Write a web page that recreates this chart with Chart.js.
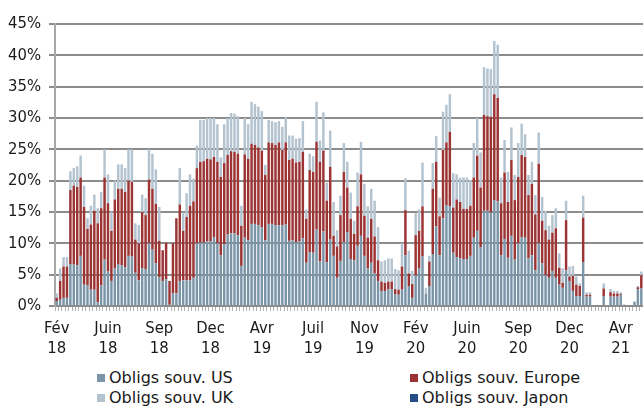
<!DOCTYPE html>
<html>
<head>
<meta charset="utf-8">
<script src="https://cdn.jsdelivr.net/npm/chart.js@4.4.1/dist/chart.umd.min.js"></script>
<style>
  body{margin:0;background:#fff;}
  #wrap{position:relative;width:643px;height:406px;overflow:hidden;}
  #legend{position:absolute;left:0;top:368px;width:643px;font-family:"DejaVu Sans",sans-serif;font-size:16px;color:#1a1a1a;}
  .item{position:absolute;white-space:nowrap;line-height:20px;}
  .item span.box{display:inline-block;width:8px;height:8px;margin-right:4px;vertical-align:1px;}
</style>
</head>
<body>
<div id="wrap">
  <canvas id="chart" width="643" height="360"></canvas>
  <div id="legend"></div>
</div>
<script>
// Etiquettes de l'axe X (une toutes les 15 semaines)
const tickLabels = [
  ["Fév","18"],["Juin","18"],["Sep","18"],["Dec","18"],["Avr","19"],["Juil","19"],
  ["Nov","19"],["Fév","20"],["Juin","20"],["Sep","20"],["Dec","20"],["Avr","21"]
];
const TICK_STEP = 15;

// Séries hebdomadaires (%)
const usData = [
  0.8,1.0,1.3,1.3,6.7,6.6,6.5,8.0,3.4,3.3,2.6,2.6,0.6,3.3,7.4,
  5.5,4.0,6.0,6.6,6.5,6.2,8.0,7.9,5.3,4.1,6.0,5.9,10.0,9.0,6.8,
  4.6,4.0,4.3,0.2,2.0,2.0,4.0,4.1,4.1,4.1,4.5,10.0,10.1,10.1,10.3,
  10.3,11.0,10.0,8.1,9.9,11.4,11.6,11.6,11.3,6.4,10.9,10.5,13.1,13.1,12.9,
  12.6,10.5,13.1,13.1,12.9,12.9,12.9,13.0,10.4,10.5,10.2,10.3,10.8,6.9,8.6,
  8.5,12.2,7.1,11.9,7.0,10.6,8.0,4.5,7.2,10.2,11.8,7.5,7.3,9.6,11.2,
  8.0,6.0,6.9,5.2,4.0,2.4,2.4,2.7,2.7,1.9,1.8,2.6,8.1,3.1,1.3,
  4.9,6.0,7.9,2.0,3.2,8.3,12.7,8.1,14.0,16.1,15.9,8.5,7.8,7.6,7.5,
  7.5,8.0,10.9,12.0,9.4,15.2,15.2,14.9,16.9,16.7,8.1,10.7,7.7,11.2,7.4,
  10.0,11.0,10.9,7.6,8.1,5.7,10.0,6.8,4.9,4.5,5.6,4.5,3.4,2.9,5.7,
  4.0,2.4,1.6,1.6,7.0,1.5,1.5,0,0,0,1.6,0,1.5,1.5,1.5,
  1.7,0,0,0,0.7,2.7,2.8
];
const europeData = [
  0.5,3.0,5.0,5.0,11.8,12.6,12.5,12.5,12.4,9.0,10.4,12.6,12.6,12.3,13.1,
  10.9,8.0,11.0,12.1,12.2,12.0,12.0,11.9,5.3,5.9,9.0,8.6,10.2,9.7,9.5,
  5.8,4.9,5.8,3.8,8.0,12.0,12.2,7.9,10.1,11.9,12.2,12.0,12.9,13.0,13.2,
  13.1,12.8,13.0,12.5,12.9,12.7,13.1,13.0,13.0,6.4,13.3,13.0,12.8,12.6,12.4,
  12.2,10.4,13.0,12.9,12.8,13.2,12.0,13.1,12.9,13.0,12.7,12.7,13.8,7.0,13.1,
  12.9,14.0,15.9,12.9,9.8,11.6,3.2,5.0,7.3,11.2,7.1,6.4,4.2,6.3,9.8,
  6.4,4.9,7.0,5.9,3.3,1.5,1.3,1.2,1.2,0.8,0.8,3.7,7.2,2.1,2.2,
  6.4,6.0,8.0,0,3.9,10.4,10.3,6.2,10.9,10.0,11.9,7.2,9.2,9.0,8.0,
  8.0,8.0,9.6,12.0,9.5,15.3,15.1,15.3,16.9,16.5,8.3,10.6,8.9,12.1,9.5,
  10.6,13.1,12.9,10.1,11.4,8.9,12.7,6.8,7.2,6.1,6.1,7.9,2.7,0.8,8.0,
  0.7,2.4,1.8,1.6,7.1,0.3,0.3,0,0,0,1.2,0,0.7,0.5,0.5,
  0.2,0.2,0,0,0,0.3,2.1
];
const ukData = [
  0.7,2.0,1.5,1.5,3.0,2.8,3.3,3.5,3.4,1.7,3.0,2.6,2.4,2.6,4.5,
  4.6,3.0,3.0,3.9,3.9,3.8,5.0,5.2,2.6,2.9,2.8,2.7,4.8,5.6,5.5,
  5.4,0,0,0,0,0,5.8,2.9,3.8,5.0,3.6,3.6,6.7,6.6,6.5,
  6.6,6.2,6.0,3.1,6.2,5.9,6.1,6.1,6.0,3.2,5.8,5.5,6.7,6.5,6.5,
  6.3,1.6,3.6,3.5,3.6,3.4,3.7,4.0,3.9,3.7,3.8,3.8,4.9,1.5,2.6,
  2.5,6.4,3.4,6.1,2.9,5.8,5.4,2.6,3.1,4.6,4.1,4.2,2.1,5.4,5.2,
  5.1,5.0,4.8,5.7,5.3,3.2,3.6,3.7,3.7,3.2,3.1,3.7,5.1,3.6,2.1,
  3.5,3.4,7.0,0.9,0.9,4.1,4.1,3.0,6.1,6.0,6.0,5.5,4.0,3.9,5.0,
  5.0,4.1,5.5,6.0,5.6,7.6,7.6,7.6,8.5,8.5,4.1,5.2,4.8,5.2,4.0,
  5.4,5.0,3.6,3.2,3.5,3.1,5.0,3.8,3.1,2.2,2.8,3.2,2.3,2.3,3.1,
  1.6,1.6,1.3,0.4,3.5,0.4,0.4,0,0,0,0.8,0,0.5,0.4,0.4,
  0.3,0,0,0,0,0.2,0.6
];
const japonData = []; // rien de visible sur le graphique

const seriesNames = ["Obligs souv. US","Obligs souv. Europe","Obligs souv. UK","Obligs souv. Japon"];
const seriesColors = ["#7b95a8","#9c3434","#b3c3cf","#244d86"];

// une catégorie par semaine
const categories = usData.map((_, i) => i);

const FONT = '"DejaVu Sans Condensed","DejaVu Sans",sans-serif';
const AREA_LEFT = 55;
const AREA_BOTTOM = 306;

const chart = new Chart(document.getElementById("chart"), {
  type: "bar",
  data: {
    labels: categories,
    datasets: [usData, europeData, ukData, japonData].map((d, i) => ({
      label: seriesNames[i],
      data: d,
      backgroundColor: seriesColors[i],
      barPercentage: 0.72,
      categoryPercentage: 1.0
    }))
  },
  options: {
    responsive: false,
    animation: false,
    layout: { padding: { top: 24, right: 0, left: 0, bottom: 0 } },
    plugins: { legend: { display: false }, tooltip: { enabled: false } },
    scales: {
      x: {
        stacked: true,
        // hauteur fixe, et pas de marge à droite : le graphique va jusqu'au bord
        afterFit: s => { s.height = 360 - AREA_BOTTOM; s.paddingLeft = 0; s.paddingRight = 0; },
        border: { display: true, color: "#8c8c8c", width: 2 },
        grid: { display: true, drawOnChartArea: false, drawTicks: true, tickLength: 5, color: "#b0b0b0", lineWidth: 1, offset: true },
        ticks: {
          autoSkip: false, maxRotation: 0, minRotation: 0, padding: 8,
          color: "#1a1a1a", font: { family: FONT, size: 16.5, lineHeight: 1.2 },
          callback: (v, i) => i % TICK_STEP === 0 ? tickLabels[i / TICK_STEP] : ""
        }
      },
      y: {
        stacked: true,
        min: 0, max: 45,
        afterFit: s => { s.width = AREA_LEFT; },
        border: { display: true, color: "#a8a8a8", width: 2 },
        grid: { color: "#8c8c8c", lineWidth: 2, tickLength: 6 },
        ticks: {
          stepSize: 5, padding: 8,
          color: "#1a1a1a", font: { family: FONT, size: 16.5 },
          callback: v => v + "%"
        }
      }
    }
  }
});

// Légende HTML (deux colonnes)
const legendPos = [[97, 0], [410, 0], [97, 20], [410, 20]];
const legendDiv = document.getElementById("legend");
chart.data.datasets.forEach((ds, i) => {
  const el = document.createElement("div");
  el.className = "item";
  el.style.left = legendPos[i][0] + "px";
  el.style.top = legendPos[i][1] + "px";
  const box = document.createElement("span");
  box.className = "box";
  box.style.background = ds.backgroundColor;
  el.appendChild(box);
  el.append(ds.label);
  legendDiv.appendChild(el);
});
</script>
</body>
</html>
